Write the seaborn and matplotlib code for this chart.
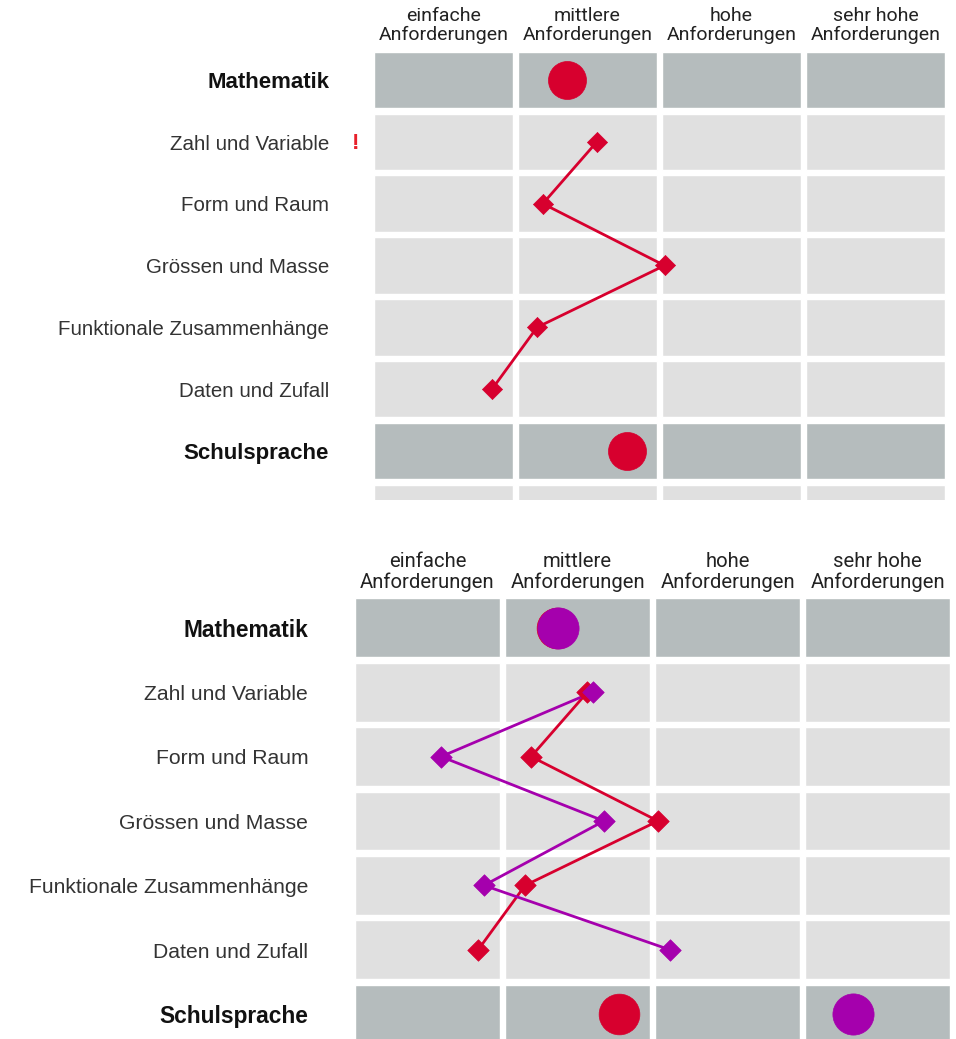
import numpy as np
import pandas as pd
import seaborn as sns
import matplotlib.pyplot as plt

sns.set_style("white")
plt.rcParams["font.family"] = ["Liberation Sans", "DejaVu Sans"]

# data
level_top = ["einfache", "mittlere", "hohe", "sehr hohe"]
level_bottom = ["Anforderungen"] * 4
rows = ["Mathematik", "Zahl und Variable", "Form und Raum", "Grössen und Masse",
        "Funktionale Zusammenhänge", "Daten und Zufall", "Schulsprache"]
domains = rows[1:6]

# positions on the 0..4 scale (one unit = one Anforderungsstufe)
red_math = 1.36
red_domains = [1.565, 1.19, 2.035, 1.15, 0.837]
red_sprache = 1.775

purple_math = 1.37
purple_domains = [1.60, 0.59, 1.675, 0.876, 2.115]
purple_sprache = 3.334

RED = "#d7002e"
PURPLE = "#a500ad"
DARK = "#b5bcbd"
LIGHT = "#e0e0e0"
W, H = 956, 1039


def grid(ax, n_rows):
    colors = [DARK if r in (0, 6) else LIGHT for r in range(n_rows)]
    for c in range(4):
        ax.barh(np.arange(n_rows), 0.965, left=c + 0.0175, height=0.915,
                color=colors, zorder=1)


def headers(ax, y1, y2, size):
    for c in range(4):
        ax.text(c + 0.5, y1, level_top[c], ha="center", va="baseline",
                fontsize=size, family="Roboto", color="#222222", clip_on=False)
        ax.text(c + 0.5, y2, level_bottom[c], ha="center", va="baseline",
                fontsize=size, family="Roboto", color="#222222", clip_on=False)


def labels(ax, size, bsize):
    for i, r in enumerate(rows):
        bold = i in (0, 6)
        ax.text(-0.295, i + 0.035, r, ha="right", va="center", clip_on=False,
                fontsize=bsize if bold else size,
                fontweight="bold" if bold else "normal",
                color="#111111" if bold else "#333333")


def series(ax, domain_vals, color):
    df = pd.DataFrame({"x": domain_vals, "y": np.arange(1, 6)})
    sns.lineplot(data=df, x="x", y="y", sort=False, estimator=None,
                 color=color, linewidth=2, ax=ax, zorder=3)
    return df


def markers(ax, df, color, z, s):
    sns.scatterplot(data=df, x="x", y="y", marker="D", s=s, color=color,
                    edgecolor=color, linewidth=0.5, ax=ax, zorder=z)


def dots(ax, vals, color, z, s):
    df = pd.DataFrame({"x": vals, "y": [0, 6]})
    sns.scatterplot(data=df, x="x", y="y", s=s, color=color, edgecolor=color,
                    linewidth=0.5, ax=ax, zorder=z)


def finish(ax, ybottom):
    ax.set_xlim(0, 4)
    ax.set_ylim(ybottom, -0.5)
    ax.set_axis_off()


fig = plt.figure(figsize=(W / 100, H / 100), dpi=100)

# top panel: only one series
ax1 = fig.add_axes([371.5 / W, 1 - 500 / H, 576 / W, 450.9 / H])
grid(ax1, 8)
d_red = series(ax1, red_domains, RED)
markers(ax1, d_red, RED, 4, 105)
dots(ax1, [red_math, red_sprache], RED, 5, 750)
headers(ax1, -0.96, -0.647, 14)
labels(ax1, 14.8, 16)
ax1.text(-0.108, 1.03, "!", ha="center", va="center", color="#e8202a",
         fontsize=16, fontweight="bold")
finish(ax1, 6.793)

# bottom panel: two series
ax2 = fig.add_axes([352.5 / W, 0, 600.4 / W, 443.4 / H])
grid(ax2, 7)
d_red2 = series(ax2, red_domains, RED)
d_pur = series(ax2, purple_domains, PURPLE)
markers(ax2, d_red2, RED, 4, 120)
markers(ax2, d_pur, PURPLE, 5, 120)
dots(ax2, [red_math, red_sprache], RED, 6, 860)
dots(ax2, [purple_math, purple_sprache], PURPLE, 7, 880)
headers(ax2, -0.95, -0.618, 14.6)
labels(ax2, 15.2, 16.4)
finish(ax2, 6.385)

fig.savefig("out.png", dpi=100)
